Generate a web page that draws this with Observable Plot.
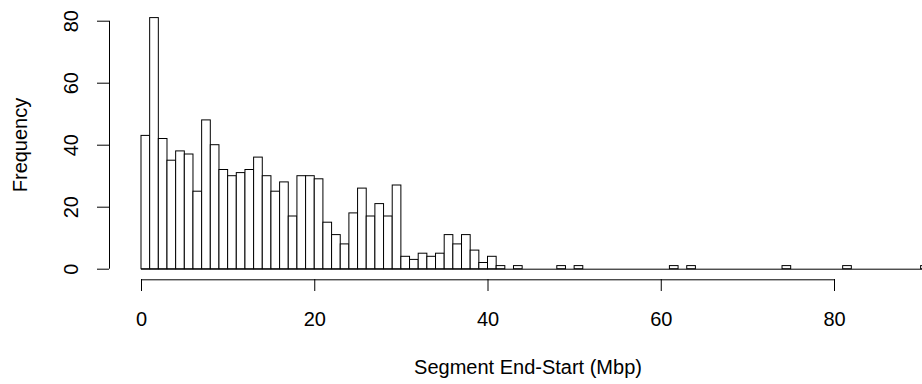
<!DOCTYPE html>
<html>
<head>
<meta charset="utf-8">
<script src="https://cdn.jsdelivr.net/npm/d3@7"></script>
<script src="https://cdn.jsdelivr.net/npm/@observablehq/plot@0.6"></script>
<style>
  html, body { margin: 0; padding: 0; background: white; }
</style>
</head>
<body>
<div id="chart"></div>
<script>
// Histogram counts per 1-Mbp bin, starting at 0
const binWidth = 1;
const counts = [
  43, 81, 42, 35, 38, 37, 25, 48, 40, 32,
  30, 31, 32, 36, 30, 25, 28, 17, 30, 30,
  29, 15, 11, 8, 18, 26, 17, 21, 17, 27,
  4, 3, 5, 4, 5, 11, 8, 11, 6, 2,
  4, 1, 0, 1, 0, 0, 0, 0, 1, 0,
  1, 0, 0, 0, 0, 0, 0, 0, 0, 0,
  0, 1, 0, 1, 0, 0, 0, 0, 0, 0,
  0, 0, 0, 0, 1, 0, 0, 0, 0, 0,
  0, 1, 0, 0, 0, 0, 0, 0, 0, 0,
  1
];
const xTicks = [0, 20, 40, 60, 80];
const yTicks = [0, 20, 40, 60, 80];
const xLabel = "Segment End-Start (Mbp)";
const yLabel = "Frequency";

const bins = counts.map((c, i) => ({x1: i * binWidth, x2: (i + 1) * binWidth, count: c}));
const nonZero = bins.filter(d => d.count > 0);

const FS = 20;
const chart = Plot.plot({
  width: 922,
  height: 384,
  marginLeft: 109,
  marginRight: 56,
  marginTop: 10,
  marginBottom: 105,
  style: {fontFamily: "'Liberation Sans', Arial, sans-serif", fontSize: FS + "px", color: "black", background: "white"},
  x: {domain: [xTicks[0], xTicks[xTicks.length - 1]], range: [141, 834]},
  y: {domain: [yTicks[0], yTicks[yTicks.length - 1]], range: [268.7, 20.7]},
  marks: [
    // baseline formed by empty bins
    Plot.ruleY([0], {x1: 0, x2: bins.length * binWidth, stroke: "black", strokeWidth: 1}),
    Plot.rect(nonZero, {x1: "x1", x2: "x2", y1: 0, y2: "count", fill: "white", stroke: "black", strokeWidth: 1}),
    // x axis
    Plot.ruleY([0], {x1: xTicks[0], x2: xTicks[xTicks.length - 1], dy: 10.6, stroke: "black"}),
    Plot.axisX({ticks: xTicks, tickSize: 12, tickPadding: 20, label: null, fontSize: FS, stroke: "black", fill: "black"}),
    // y axis
    Plot.ruleX([0], {y1: yTicks[0], y2: yTicks[yTicks.length - 1], dx: -32, stroke: "black"}),
    Plot.axisY({ticks: yTicks, tickSize: 12, tickFormat: () => "", label: null, stroke: "black"}),
    Plot.text(yTicks, {y: d => d, text: d => String(d), frameAnchor: "left", dx: -38, rotate: -90,
      textAnchor: "middle", lineAnchor: "middle", fontSize: FS, fill: "black"}),
    // axis titles
    Plot.text([yLabel], {text: d => d, frameAnchor: "left", dx: -88.5, rotate: -90,
      textAnchor: "middle", lineAnchor: "middle", fontSize: FS, fill: "black"}),
    Plot.text([xLabel], {text: d => d, frameAnchor: "bottom", dx: 40, dy: 88.5,
      textAnchor: "middle", lineAnchor: "middle", fontSize: FS, fill: "black"})
  ]
});
document.getElementById("chart").appendChild(chart);
</script>
</body>
</html>
